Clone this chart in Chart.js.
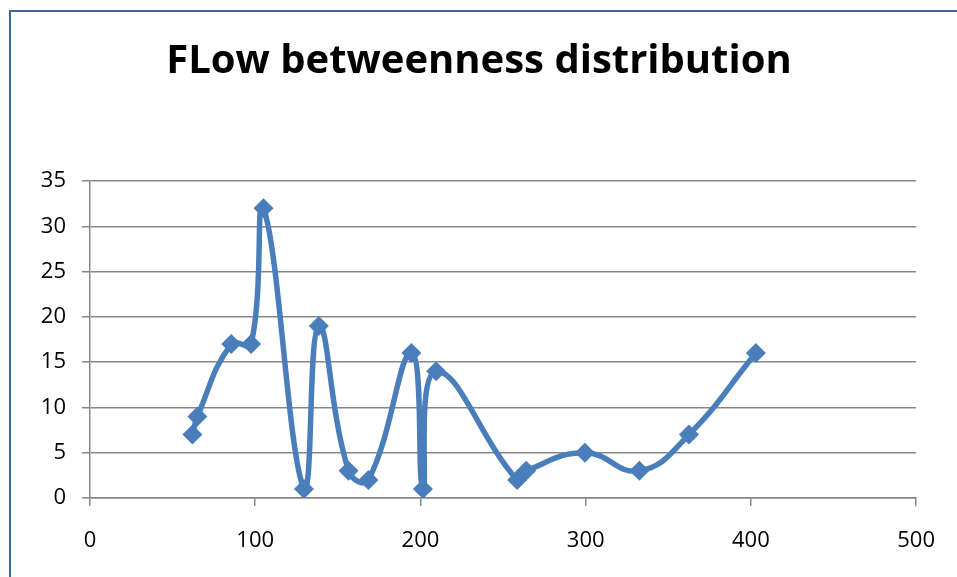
<!DOCTYPE html>
<html>
<head>
<meta charset="utf-8">
<script src="https://cdn.jsdelivr.net/npm/chart.js@4.4.0/dist/chart.umd.min.js"></script>
<style>
  html, body { margin: 0; padding: 0; background: #fff; overflow: hidden; }
  #frame {
    position: absolute; left: 9px; top: 10px; width: 1000px; height: 620px;
    border: 2px solid #3F6597; box-sizing: border-box;
  }
  #wrap { position: absolute; left: 0; top: 0; width: 957px; height: 577px; }
</style>
</head>
<body>
<div id="frame"></div>
<div id="wrap"><canvas id="chart"></canvas></div>
<script>
// flow betweenness values (x) and how many nodes have it (y)
const flowValues = [62, 65, 85.5, 97.5, 105, 129.5, 138.5, 156.5, 168.5, 194.5, 201.5, 209.5, 258.5, 264, 299.5, 332.5, 362.5, 403];
const nodeCounts = [7, 9, 17, 17, 32, 1, 19, 3, 2, 16, 1, 14, 2, 3, 5, 3, 7, 16];
const xTicks = [0, 100, 200, 300, 400, 500];
const yTicks = [0, 5, 10, 15, 20, 25, 30, 35];

const points = flowValues.map((v, i) => ({ x: v, y: nodeCounts[i] }));
const blue = '#4A7EBB';
const gray = '#878787';
const tickFont = { family: 'Open Sans', size: 22 };

new Chart(document.getElementById('chart'), {
  type: 'line',
  data: {
    datasets: [{
      data: points,
      borderColor: blue,
      backgroundColor: blue,
      borderWidth: 5.5,
      tension: 0.45,
      pointStyle: 'rectRot',
      pointRadius: 10,
      pointBorderWidth: 0,
      pointHoverRadius: 10
    }]
  },
  options: {
    responsive: true,
    maintainAspectRatio: false,
    animation: false,
    layout: { padding: { left: 34, right: 33, top: 0, bottom: 0 } },
    plugins: {
      legend: { display: false },
      tooltip: { enabled: false },
      title: {
        display: true,
        text: 'FLow betweenness distribution',
        color: '#000',
        font: { family: 'Open Sans', size: 40, weight: 'bold' },
        padding: { top: 38, bottom: 95 }
      }
    },
    scales: {
      x: {
        type: 'linear',
        min: 0,
        max: 500,
        afterBuildTicks: s => { s.ticks = xTicks.map(v => ({ value: v })); },
        afterFit: s => { s.height = 79; },
        ticks: { color: '#000', font: tickFont, padding: 22 },
        grid: { display: true, drawOnChartArea: false, drawTicks: true, tickLength: 8, color: gray, lineWidth: 1.5 },
        border: { color: gray, width: 1.5 }
      },
      y: {
        min: 0,
        max: 35,
        afterBuildTicks: s => { s.ticks = yTicks.map(v => ({ value: v })); },
        afterFit: s => { s.width = 56; },
        ticks: { color: '#000', font: tickFont, padding: 16 },
        grid: { color: gray, lineWidth: 1.5, tickLength: 8 },
        border: { color: gray, width: 1.5 }
      }
    }
  }
});
</script>
</body>
</html>
